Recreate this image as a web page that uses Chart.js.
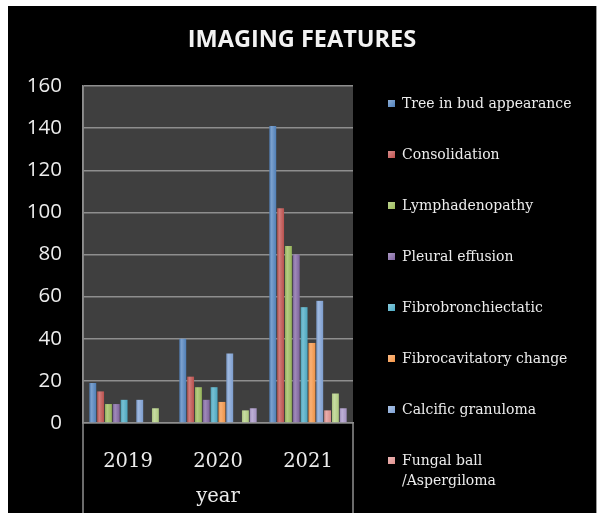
<!DOCTYPE html>
<html><head><meta charset="utf-8">
<script src="https://cdn.jsdelivr.net/npm/chart.js@4"></script>
<style>
html,body{margin:0;padding:0;background:#fff;}
#frame{position:absolute;left:8px;top:6px;width:588px;height:507px;background:#000;border-right:1px solid #9a9a9a;}
#wrap{position:absolute;left:0;top:0;width:604px;height:513px;}
#legend{position:absolute;left:385px;top:80px;width:211px;height:433px;overflow:hidden;font-family:'DejaVu Serif';font-size:14px;color:#ececec;}
.sw{position:absolute;left:3px;width:7px;height:7px;}
.lt{position:absolute;left:17px;line-height:20px;white-space:nowrap;}
</style></head>
<body>
<div id="frame"></div>
<div id="wrap"><canvas id="c" width="604" height="513"></canvas></div>
<div id="legend"></div>
<script>
const chartTitle = 'IMAGING FEATURES';
const axisTitle = 'year';
const categories = ['2019', '2020', '2021'];
const yTicks = [0, 20, 40, 60, 80, 100, 120, 140, 160];

const seriesNames = [
  'Tree in bud appearance',
  'Consolidation',
  'Lymphadenopathy',
  'Pleural effusion',
  'Fibrobronchiectatic',
  'Fibrocavitatory change',
  'Calcific granuloma',
  ['Fungal ball', '/Aspergiloma'],
  'Series 9',
  'Series 10'
];

const treeInBud       = [19, 40, 141];
const consolidation   = [15, 22, 102];
const lymphadenopathy = [9, 17, 84];
const pleuralEffusion = [9, 11, 80];
const fibrobronch     = [11, 17, 55];
const fibrocavitatory = [0, 10, 38];
const calcificGranul  = [11, 33, 58];
const fungalBall      = [0, 0, 6];
const series9         = [7, 6, 14];
const series10        = [0, 7, 7];

const seriesValues = [treeInBud, consolidation, lymphadenopathy, pleuralEffusion,
  fibrobronch, fibrocavitatory, calcificGranul, fungalBall, series9, series10];

const seriesColors = ['#4F81BD', '#C0504D', '#9BBB59', '#8064A2', '#4BACC6',
  '#F79646', '#7FA2D6', '#E0908D', '#B5D184', '#A895C8'];

const visibleLegendItems = 8;

const catPct = 0.87;
const barPct = 0.88;

function shade(hex, f) {
  const n = parseInt(hex.slice(1), 16);
  let r = (n >> 16) & 255, g = (n >> 8) & 255, b = n & 255;
  if (f >= 0) { r += (255 - r) * f; g += (255 - g) * f; b += (255 - b) * f; }
  else { r *= 1 + f; g *= 1 + f; b *= 1 + f; }
  return 'rgb(' + Math.round(r) + ',' + Math.round(g) + ',' + Math.round(b) + ')';
}

function barFill(ctx) {
  const chart = ctx.chart;
  const base = seriesColors[ctx.datasetIndex];
  const xs = chart.scales && chart.scales.x;
  if (!xs || ctx.dataIndex === undefined) return base;
  const center = xs.getPixelForValue(ctx.dataIndex);
  const catW = xs.width / categories.length;
  if (!isFinite(center) || !isFinite(catW) || catW <= 0) return base;
  const groupW = catW * catPct;
  const slot = groupW / seriesValues.length;
  const x0 = center - groupW / 2 + slot * ctx.datasetIndex;
  const g = chart.ctx.createLinearGradient(x0, 0, x0 + slot, 0);
  g.addColorStop(0, shade(base, -0.1));
  g.addColorStop(0.35, shade(base, 0.25));
  g.addColorStop(1, shade(base, -0.05));
  return g;
}

const frameLines = {
  id: 'frameLines',
  beforeDraw(chart) {
    const a = chart.chartArea, c = chart.ctx;
    c.save();
    c.fillStyle = '#3f3f3f';
    c.fillRect(a.left, a.top, a.right - a.left, a.bottom - a.top);
    c.restore();
  },
  afterDraw(chart) {
    const a = chart.chartArea, c = chart.ctx;
    const xs = chart.scales.x;
    c.save();
    c.strokeStyle = '#8e8e8e';
    c.lineWidth = 1.5;
    c.beginPath();
    c.moveTo(a.left, a.top); c.lineTo(a.left, xs.bottom);
    c.moveTo(a.right, a.bottom); c.lineTo(a.right, xs.bottom);
    c.stroke();
    c.restore();
  }
};

const datasets = seriesNames.map((name, i) => ({
  label: name,
  data: seriesValues[i],
  backgroundColor: barFill,
  borderWidth: 0,
  categoryPercentage: catPct,
  barPercentage: barPct
}));

const chart = new Chart(document.getElementById('c'), {
  type: 'bar',
  data: { labels: categories, datasets },
  plugins: [frameLines],
  options: {
    responsive: false,
    animation: false,
    layout: { padding: 0 },
    plugins: {
      legend: { display: false },
      tooltip: { enabled: false },
      title: {
        display: true,
        text: chartTitle,
        color: '#f2f2f2',
        font: { family: 'Open Sans', size: 23.5, weight: 'bold', lineHeight: 1.2 },
        padding: { top: 26.4, bottom: 31.4 }
      }
    },
    scales: {
      x: {
        position: 'bottom',
        afterFit: s => { s.height = 90; },
        grid: { display: false },
        border: { display: true, color: '#8e8e8e', width: 1.5 },
        ticks: { color: '#ececec', padding: 19, font: { family: 'DejaVu Serif', size: 19.5, lineHeight: 1.2 } },
        title: {
          display: true, text: axisTitle, color: '#ececec',
          font: { family: 'DejaVu Serif', size: 19.5, lineHeight: 1.2 },
          padding: { top: 0, bottom: 4 }
        }
      },
      y: {
        position: 'left',
        min: yTicks[0],
        max: yTicks[yTicks.length - 1],
        afterFit: s => { s.width = 83; },
        afterBuildTicks: s => { s.ticks = yTicks.map(v => ({ value: v })); },
        grid: { color: '#8e8e8e', lineWidth: 1.5, drawTicks: false },
        border: { display: true, color: '#8e8e8e', width: 1.5 },
        ticks: { color: '#ececec', padding: 21, font: { family: 'Open Sans', size: 20.5 } }
      },
      legendSpace: {
        type: 'linear',
        position: 'right',
        display: true,
        afterFit: s => { s.width = 251; },
        grid: { display: false },
        border: { display: false },
        ticks: { display: false }
      }
    }
  }
});

// HTML legend built from the chart's datasets
const legendEl = document.getElementById('legend');
const firstCenter = 23;
const step = 51;
chart.data.datasets.slice(0, visibleLegendItems).forEach((ds, i) => {
  const cy = firstCenter + i * step;
  const sw = document.createElement('div');
  sw.className = 'sw';
  sw.style.top = (cy - 3.5) + 'px';
  const base = seriesColors[i];
  sw.style.background = 'linear-gradient(135deg,' + shade(base, 0.35) + ',' + base + ')';
  legendEl.appendChild(sw);
  const t = document.createElement('div');
  t.className = 'lt';
  t.style.top = (cy - 10) + 'px';
  const lines = Array.isArray(ds.label) ? ds.label : [ds.label];
  lines.forEach((ln, k) => {
    if (k) t.appendChild(document.createElement('br'));
    t.appendChild(document.createTextNode(ln));
  });
  legendEl.appendChild(t);
});
</script>
</body></html>
